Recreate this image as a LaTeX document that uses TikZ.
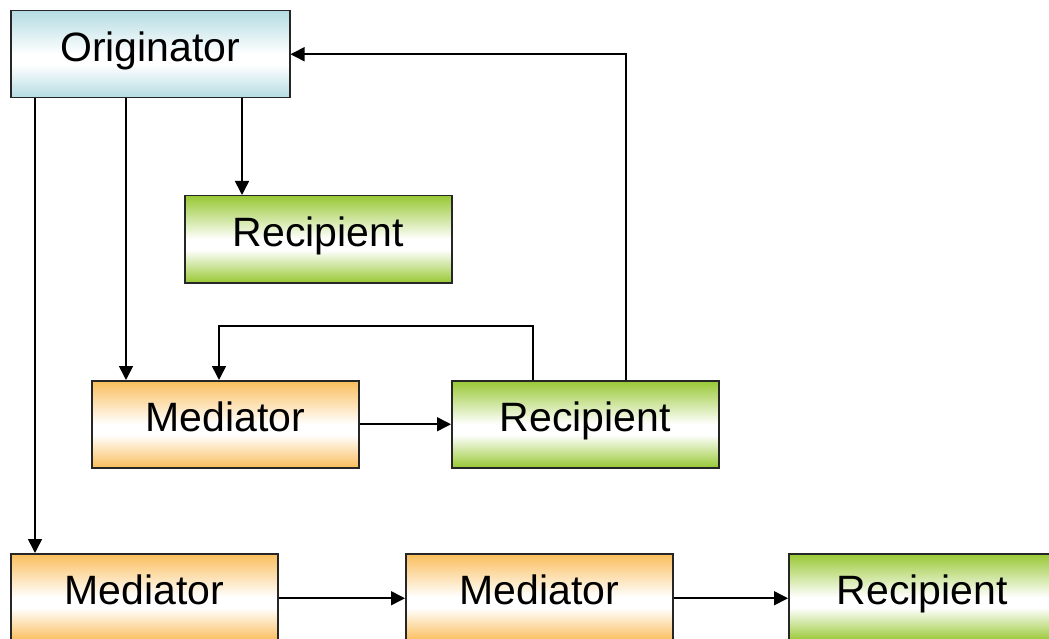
\documentclass[tikz,border=0pt]{standalone}
\usepackage{fontspec}
\setmainfont{Liberation Sans}
\usetikzlibrary{arrows.meta}

% Fill colours of the three kinds of box
\definecolor{origC}{RGB}{180,220,226}
\definecolor{medC}{RGB}{250,190,92}
\definecolor{recC}{RGB}{152,200,52}

% Vertical bands: colour at top and bottom, white a little below the middle
\pgfdeclareverticalshading{origband}{100bp}{color(0bp)=(origC); color(25bp)=(origC); color(44bp)=(white); color(50bp)=(white); color(75bp)=(origC); color(100bp)=(origC)}
\pgfdeclareverticalshading{medband}{100bp}{color(0bp)=(medC); color(25bp)=(medC); color(44bp)=(white); color(50bp)=(white); color(75bp)=(medC); color(100bp)=(medC)}
\pgfdeclareverticalshading{recband}{100bp}{color(0bp)=(recC); color(25bp)=(recC); color(44bp)=(white); color(50bp)=(white); color(75bp)=(recC); color(100bp)=(recC)}

\tikzset{
  box/.style={rectangle, draw=black!85, line width=1.5pt, inner sep=0pt,
    minimum width=267pt, minimum height=87pt, anchor=north west,
    text height=29.5pt, text depth=15.5pt,
    font=\fontsize{41}{48}\selectfont},
  origbox/.style={box, shading=origband, minimum width=279pt},
  medbox/.style={box, shading=medband},
  recbox/.style={box, shading=recband},
  arr/.style={draw=black, line width=1.6pt, -{Triangle[length=14pt,width=14pt]}}
}

\begin{document}
\begin{tikzpicture}[x=1pt, y=-1pt]
  \useasboundingbox (0,0) rectangle (1049,639);
  \clip (0,0) rectangle (1049,639);

  % Boxes
  \node[origbox] (orig) at (10,10)  {Originator};
  \node[recbox]  (rec1) at (184,195) {Recipient};
  \node[medbox]  (med1) at (91,380)  {Mediator};
  \node[recbox]  (rec2) at (451,380) {Recipient};
  \node[medbox]  (med2) at (10,553)  {Mediator};
  \node[medbox]  (med3) at (405,553) {Mediator};
  \node[recbox]  (rec3) at (788,553) {Recipient};

  % Connectors from the originator
  \draw[arr] ([xshift=25pt]orig.south west) -- ([xshift=25pt]med2.north west);
  \draw[arr] ([xshift=116pt]orig.south west) -- ([xshift=35pt]med1.north west);
  \draw[arr] ([xshift=232pt]orig.south west) -- ([xshift=58pt]rec1.north west);

  % Feedback loops from the middle recipient
  \draw[arr] ([xshift=82pt]rec2.north west) -- ++(0,-54) -| ([xshift=128pt]med1.north west);
  \draw[arr] ([xshift=175pt]rec2.north west) |- (orig.east);

  % Chains of mediators
  \draw[arr] (med1.east) -- (rec2.west);
  \draw[arr] ([yshift=-1pt]med2.east) -- ([yshift=-1pt]med3.west);
  \draw[arr] ([yshift=-1pt]med3.east) -- ([yshift=-1pt]rec3.west);
\end{tikzpicture}
\end{document}
